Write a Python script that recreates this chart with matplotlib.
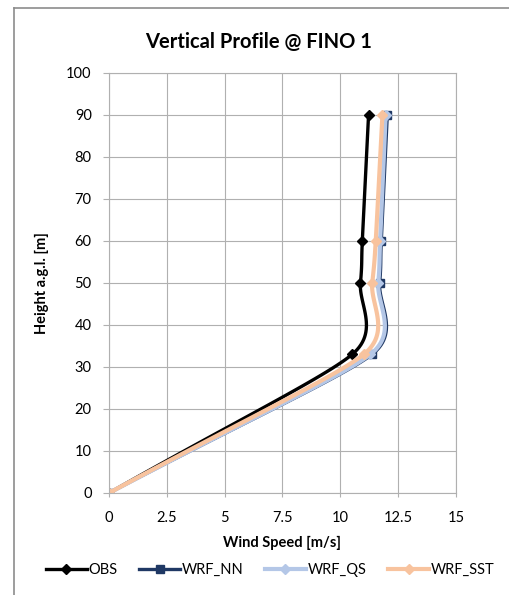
import numpy as np
import matplotlib.pyplot as plt
from matplotlib.lines import Line2D

# data
heights = [0, 33, 50, 60, 90]
obs = [0, 10.51, 10.87, 10.95, 11.22]
wrf_nn = [0, 11.37, 11.70, 11.77, 12.03]
wrf_qs = [0, 11.30, 11.64, 11.72, 11.96]
wrf_sst = [0, 11.01, 11.38, 11.53, 11.82]

series_names = ['OBS', 'WRF_NN', 'WRF_QS', 'WRF_SST']
x_ticks = [0, 2.5, 5, 7.5, 10, 12.5, 15]
y_ticks = [0, 10, 20, 30, 40, 50, 60, 70, 80, 90, 100]

plt.rcParams['font.family'] = ['Lato', 'DejaVu Sans']

fig = plt.figure(figsize=(5.1, 5.95), dpi=100)
ax = fig.add_axes([109/510, 1-493/595, 347/510, 420/595])
ax.set_xlim(0, 15)
ax.set_ylim(0, 100)

# size of the plot area in pixels, used so the smoothing works in screen space like Excel
px_x = 347/15.0
px_y = 420/100.0

def smooth(xs, ys, n=30, k=0.5):
    #bezier smoothing through the points, arm length limited by the shorter neighbouring segment
    p = np.column_stack([np.array(xs)*px_x, np.array(ys)*px_y])
    seglen = np.linalg.norm(np.diff(p, axis=0), axis=1)
    out = [p[0]]
    for i in range(len(p)-1):
        p0 = p[i-1] if i > 0 else p[i]
        p1 = p[i]
        p2 = p[i+1]
        p3 = p[i+2] if i+2 < len(p) else p[i+1]
        d = seglen[i]
        d1 = min(d, seglen[i-1]) if i > 0 else d
        d2 = min(d, seglen[i+1]) if i+1 < len(seglen) else d
        t1 = p2-p0
        t2 = p3-p1
        c1 = p1 + t1/np.linalg.norm(t1)*d1*k
        c2 = p2 - t2/np.linalg.norm(t2)*d2*k
        t = np.linspace(0, 1, n)[1:, None]
        seg = (1-t)**3*p1 + 3*(1-t)**2*t*c1 + 3*(1-t)*t**2*c2 + t**3*p2
        out.extend(seg)
    out = np.array(out)
    return out[:, 0]/px_x, out[:, 1]/px_y

styles = [
    (obs, 'black', 'D', 2.4, 5),
    (wrf_nn, '#1F3864', 's', 2.4, 6),
    (wrf_qs, '#B4C7E7', 'D', 3.0, 5),
    (wrf_sst, '#F8C39E', 'D', 3.0, 5),
]

handles = []
for (vals, col, mk, lw, ms), name in zip(styles, series_names):
    sx, sy = smooth(vals, heights)
    ax.plot(sx, sy, color=col, linewidth=lw, solid_capstyle='round')
    ax.plot(vals, heights, linestyle='none', marker=mk, color=col, markersize=ms)
    handles.append(Line2D([], [], color=col, linewidth=lw, marker=mk, markersize=ms, label=name))

ax.set_xticks(x_ticks)
ax.set_xticklabels(['0', '2.5', '5', '7.5', '10', '12.5', '15'])
ax.set_yticks(y_ticks)
ax.grid(color='#B0B0B0', linewidth=0.8)
ax.set_axisbelow(True)
for s in ax.spines.values():
    s.set_color('#B0B0B0')
    s.set_linewidth(0.8)
ax.tick_params(axis='y', length=4.5, width=0.8, color='#B0B0B0', labelsize=10.5, pad=8)
ax.tick_params(axis='x', length=3, width=0.8, color='#B0B0B0', labelsize=10.5, pad=10)

ax.set_xlabel('Wind Speed [m/s]', fontsize=10.5, fontweight='bold', labelpad=8)
ax.set_ylabel('Height a.g.l. [m]', fontsize=10.5, fontweight='bold', labelpad=12)

fig.text(259/510, 1-42/595, 'Vertical Profile @ FINO 1', ha='center', va='center',
         fontsize=14.5, fontweight='bold')

fig.legend(handles=handles, loc='center', bbox_to_anchor=(270/510, 1-570/595), ncol=4,
           frameon=False, fontsize=10.5, handlelength=2.8, columnspacing=1.5,
           handletextpad=0.1)

# outer chart frame (cut off at the right and bottom in the reference)
fig.add_artist(Line2D([14/510, 1.0], [1-8/595, 1-8/595], color='#8C8C8C', linewidth=1.2))
fig.add_artist(Line2D([14/510, 14/510], [0, 1-8/595], color='#8C8C8C', linewidth=1.2))

fig.savefig('out.png', dpi=100)
